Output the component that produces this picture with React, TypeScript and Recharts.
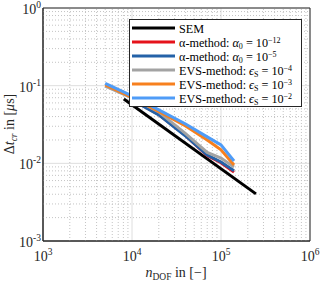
import {
  LineChart,
  Line,
  XAxis,
  YAxis,
  CartesianGrid,
  ReferenceLine,
  ReferenceArea,
  Legend,
} from 'recharts'

// degrees of freedom per mesh
const nDofSem = [8100, 247000]
const nDofEvs = [5000, 10000, 20000, 40000, 70000, 100000, 140000]
const nDofAlpha = [10000, 20000, 40000, 70000, 100000, 140000]

// critical time step in microseconds
const dtSem = [0.0675, 0.00404]
const dtAlpha12 = [0.066, 0.0425, 0.0228, 0.0126, 0.0102, 0.0077]
const dtAlpha5 = [0.0655, 0.042, 0.0225, 0.0128, 0.0104, 0.008]
const dtEvs4 = [0.099, 0.0695, 0.0459, 0.0242, 0.0138, 0.0117, 0.009]
const dtEvs3 = [0.102, 0.0705, 0.0466, 0.0303, 0.02, 0.0149, 0.0095]
const dtEvs2 = [0.107, 0.0737, 0.0487, 0.0321, 0.0219, 0.0173, 0.0107]

const xTicks = [1e3, 1e4, 1e5, 1e6]
const yTicks = [1e-3, 1e-2, 1e-1, 1]
const minorSteps = [2, 3, 4, 5, 6, 7, 8, 9]
const xMinor = [1e3, 1e4, 1e5].flatMap((d) => minorSteps.map((m) => d * m))
const yMinor = [1e-3, 1e-2, 1e-1].flatMap((d) => minorSteps.map((m) => d * m))

const FONT = '"Liberation Serif", "DejaVu Serif", serif'

const toPoints = (ns: number[], vals: number[]) => ns.map((n, i) => ({ n, dt: vals[i] }))

const series = [
  { key: 'sem', data: toPoints(nDofSem, dtSem), color: '#000000' },
  { key: 'a12', data: toPoints(nDofAlpha, dtAlpha12), color: '#e5131b' },
  { key: 'a5', data: toPoints(nDofAlpha, dtAlpha5), color: '#2462a8' },
  { key: 'e4', data: toPoints(nDofEvs, dtEvs4), color: '#a3a3a3' },
  { key: 'e3', data: toPoints(nDofEvs, dtEvs3), color: '#f7801e' },
  { key: 'e2', data: toPoints(nDofEvs, dtEvs2), color: '#4f9cf7' },
]

const exponent = (v: number) => String(Math.round(Math.log10(v)))

const renderXTick = ({ x, y, payload }: any) => (
  <text key={payload.value} x={x} y={y + 20} textAnchor="middle" fontFamily={FONT} fontSize={14} fill="#262626">
    10<tspan dy={-6} fontSize={9.5}>{exponent(payload.value)}</tspan>
  </text>
)

const renderYTick = ({ x, y, payload }: any) => (
  <text key={payload.value} x={x - 2} y={y + 6} textAnchor="end" fontFamily={FONT} fontSize={14} fill="#262626">
    10<tspan dy={-6} fontSize={9.5}>{exponent(payload.value)}</tspan>
  </text>
)

const mathLabel = (name: string, sym: string, sub: string, exp: string) => (
  <>
    <tspan>{name}:  </tspan>
    <tspan fontStyle="italic">{sym}</tspan>
    <tspan fontSize={8} dy={2}>{sub}</tspan>
    <tspan dy={-2}> = 10</tspan>
    <tspan fontSize={8} dy={-4}>{exp}</tspan>
  </>
)

const legendRows = [
  { color: '#000000', label: <tspan>SEM</tspan> },
  { color: '#e5131b', label: mathLabel('α-method', 'α', '0', '−12') },
  { color: '#2462a8', label: mathLabel('α-method', 'α', '0', '−5') },
  { color: '#a3a3a3', label: mathLabel('EVS-method', 'ϵ', 'S', '−4') },
  { color: '#f7801e', label: mathLabel('EVS-method', 'ϵ', 'S', '−3') },
  { color: '#4f9cf7', label: mathLabel('EVS-method', 'ϵ', 'S', '−2') },
]

const LegendBox = () => (
  <div style={{ width: 173, height: 88, background: '#fff', border: '1px solid #262626', boxSizing: 'border-box' }}>
    <svg width={171} height={86} style={{ display: 'block' }}>
      {legendRows.map((r, i) => (
        <g key={i}>
          <line x1={2} x2={45} y1={8 + i * 14} y2={8 + i * 14} stroke={r.color} strokeWidth={3} />
          <text x={49} y={12.5 + i * 14} fontFamily={FONT} fontSize={12.2} fill="#000">
            {r.label}
          </text>
        </g>
      ))}
    </svg>
  </div>
)

export default function App() {
  return (
    <div style={{ position: 'absolute', left: 0, top: 0, width: 320, height: 281, background: '#fff' }}>
      <LineChart width={320} height={281} margin={{ top: 8, right: 10, bottom: 39, left: 42 }}>
        <CartesianGrid stroke="#dedede" strokeWidth={1} horizontal vertical />
        {xMinor.map((v) => (
          <ReferenceLine key={'x' + v} x={v} stroke="#c4c4c4" strokeDasharray="1 2" />
        ))}
        {yMinor.map((v) => (
          <ReferenceLine key={'y' + v} y={v} stroke="#c4c4c4" strokeDasharray="1 2" />
        ))}
        <XAxis
          type="number"
          dataKey="n"
          scale="log"
          domain={[1e3, 1e6]}
          ticks={xTicks}
          interval={0}
          allowDataOverflow
          height={1}
          tickSize={0}
          tickMargin={0}
          tickLine={false}
          stroke="#262626"
          tick={renderXTick}
        />
        <YAxis
          type="number"
          dataKey="dt"
          scale="log"
          domain={[1e-3, 1]}
          ticks={yTicks}
          interval={0}
          allowDataOverflow
          width={1}
          tickSize={0}
          tickMargin={0}
          tickLine={false}
          stroke="#262626"
          tick={renderYTick}
        />
        <ReferenceArea x1={1e3} x2={1e6} y1={1e-3} y2={1} fill="none" stroke="#262626" strokeWidth={1} />
        {series.map((s) => (
          <Line
            key={s.key}
            data={s.data}
            dataKey="dt"
            type="linear"
            stroke={s.color}
            strokeWidth={3}
            dot={false}
            activeDot={false}
            isAnimationActive={false}
          />
        ))}
        <Legend
          layout="horizontal"
          verticalAlign="middle"
          content={<LegendBox />}
          wrapperStyle={{ top: 19, left: 129, width: 173, height: 88 }}
        />
        <text x={176} y={277} textAnchor="middle" fontFamily={FONT} fontSize={14} fill="#262626">
          <tspan fontStyle="italic">n</tspan>
          <tspan fontSize={9.5} dy={3}>DOF</tspan>
          <tspan dy={-3}> in [−]</tspan>
        </text>
        <text
          x={14}
          y={124}
          transform="rotate(-90 14 124)"
          textAnchor="middle"
          fontFamily={FONT}
          fontSize={14}
          fill="#262626"
        >
          <tspan>Δ</tspan>
          <tspan fontStyle="italic">t</tspan>
          <tspan fontStyle="italic" fontSize={9.5} dy={3}>cr</tspan>
          <tspan dy={-3}> in [</tspan>
          <tspan fontStyle="italic">μ</tspan>
          <tspan>s]</tspan>
        </text>
      </LineChart>
    </div>
  )
}
